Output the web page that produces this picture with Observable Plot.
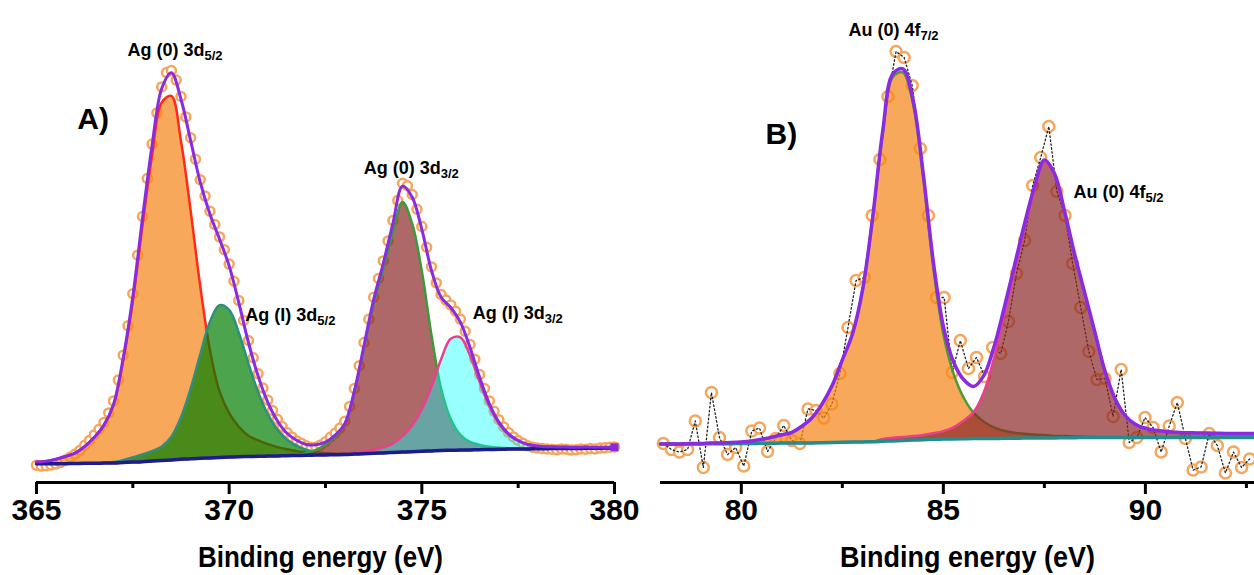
<!DOCTYPE html>
<html><head><meta charset="utf-8">
<script src="https://cdn.jsdelivr.net/npm/d3@7"></script>
<script src="https://cdn.jsdelivr.net/npm/@observablehq/plot@0.6"></script>
<style>
html,body{margin:0;padding:0;background:#fff;overflow:hidden}
#wrap{display:flex;width:1254px;height:575px}
#wrap svg{display:block;flex:none}
g[aria-label="x-axis tick label"]{font-weight:bold}
</style></head><body><div id="wrap"></div>
<script>
// ---------- Panel A : Ag 3d ----------
const energyA = [365,365.25,365.5,365.75,366,366.25,366.5,366.75,367,367.25,367.5,367.75,368,368.25,368.5,368.75,369,369.25,369.5,369.75,370,370.25,370.5,370.75,371,371.25,371.5,371.75,372,372.25,372.5,372.75,373,373.25,373.5,373.75,374,374.25,374.5,374.75,375,375.25,375.5,375.75,376,376.25,376.5,376.75,377,377.25,377.5,377.75,378,378.25,378.5,378.75,379,379.25,379.5,379.75,380];
const backgroundA = [4.7,4.7,4.7,4.7,4.75,4.8,4.8,4.85,4.9,5.0,5.1,5.2,5.35,5.5,5.65,5.8,5.95,6.05,6.15,6.25,6.35,6.45,6.5,6.55,6.6,6.65,6.7,6.75,6.8,6.85,6.9,6.95,7.0,7.1,7.2,7.3,7.4,7.5,7.6,7.7,7.8,7.9,8.0,8.05,8.1,8.15,8.2,8.25,8.3,8.35,8.4,8.4,8.45,8.45,8.5,8.5,8.5,8.55,8.55,8.6,8.6];
const ag0_3d52 = [0.4,0.6,1.1,1.8,2.6,4.2,6.5,9.5,14.5,25.5,40.2,59.0,76.5,89.5,91.0,79.5,62.0,43.0,27.0,16.5,11.0,7.5,5.2,4.0,3.0,2.2,1.6,1.1,0.7,0.5,0.3,0.2,0.1,0,0,0,0,0,0,0,0,0,0,0,0,0,0,0,0,0,0,0,0,0,0,0,0,0,0,0,0];
const agI_3d52 = [0,0,0,0,0,0,0,0,0.2,0.6,1.2,1.8,2.5,3.5,5.8,10.5,17.5,26.0,34.0,38.1,36.8,31.0,23.3,16.1,10.5,6.6,4.0,2.5,1.4,0.8,0.4,0.2,0.1,0,0,0,0,0,0,0,0,0,0,0,0,0,0,0,0,0,0,0,0,0,0,0,0,0,0,0,0];
const ag0_3d32 = [0,0,0,0,0,0,0,0,0,0,0,0,0,0,0,0,0,0,0,0,0,0,0,0,0,0,0,0.2,0.6,1.3,2.5,4.5,7.5,15.5,26.5,37.5,46.0,55.0,62.5,57.0,45.0,29.0,15.5,7.8,3.8,2.0,1.2,0.7,0.4,0.2,0.1,0,0,0,0,0,0,0,0,0,0];
const agI_3d32 = [0,0,0,0,0,0,0,0,0,0,0,0,0,0,0,0,0,0,0,0,0,0,0,0,0,0,0,0,0,0,0,0,0,0.3,0.6,0.9,1.4,2.3,4.0,6.6,10.5,16.1,22.8,27.9,28.2,23.6,16.9,10.8,6.4,3.6,2.0,1.1,0.7,0.5,0.4,0.35,0.3,0.3,0.25,0.2,0.2];
const envelopeA = [5.1,5.3,5.8,6.5,7.35,9.0,11.3,14.35,19.6,31.1,46.5,66.0,84.35,98.5,102.45,95.8,85.45,75.05,67.15,60.85,54.15,44.95,35.0,26.65,20.1,15.45,12.3,10.55,9.5,9.45,10.1,11.85,14.7,22.9,34.3,45.7,54.8,64.8,74.1,71.3,63.3,53.0,46.3,43.75,40.1,33.75,26.3,19.75,15.1,12.15,10.5,9.5,9.15,8.95,8.9,8.85,8.8,8.85,8.8,8.8,8.8];
const measuredEnergyA = [365,365.125,365.25,365.375,365.5,365.625,365.75,365.875,366,366.125,366.25,366.375,366.5,366.625,366.75,366.875,367,367.125,367.25,367.375,367.5,367.625,367.75,367.875,368,368.125,368.25,368.375,368.5,368.625,368.75,368.875,369,369.125,369.25,369.375,369.5,369.625,369.75,369.875,370,370.125,370.25,370.375,370.5,370.625,370.75,370.875,371,371.125,371.25,371.375,371.5,371.625,371.75,371.875,372,372.125,372.25,372.375,372.5,372.625,372.75,372.875,373,373.125,373.25,373.375,373.5,373.625,373.75,373.875,374,374.125,374.25,374.375,374.5,374.625,374.75,374.875,375,375.125,375.25,375.375,375.5,375.625,375.75,375.875,376,376.125,376.25,376.375,376.5,376.625,376.75,376.875,377,377.125,377.25,377.375,377.5,377.625,377.75,377.875,378,378.125,378.25,378.375,378.5,378.625,378.75,378.875,379,379.125,379.25,379.375,379.5,379.625,379.75,379.875,380];
const measuredA = [4.3,4.1,4.2,4.4,4.6,5.0,5.6,6.3,7.1,8.0,9.3,10.5,11.9,13.3,15.0,17.4,20.4,25.6,31.8,39.2,47.2,56.8,66.5,76.0,84.6,92.4,98.9,102.5,103.0,100.6,96.5,91.4,86.2,80.8,75.7,71.6,67.8,64.5,61.4,58.2,54.6,50.3,45.5,40.5,35.5,31.2,27.2,23.6,20.6,18.0,15.8,14.0,12.5,11.4,10.4,9.8,9.2,8.8,8.8,9.4,10.2,11.3,12.3,13.6,15.3,19.0,23.5,29.2,35.0,40.8,46.3,51.0,55.4,60.4,65.5,70.5,74.8,74.2,72.0,68.3,64.0,58.8,53.9,49.9,47.0,45.6,44.4,42.8,40.8,37.8,34.5,30.8,27.0,23.5,20.4,17.8,15.7,13.9,12.5,11.4,10.5,9.8,9.2,8.8,8.6,8.5,8.4,8.3,8.2,8.4,8.3,8.1,8.2,8.4,8.3,8.5,8.4,8.6,8.7,8.8,8.9];
const ticksA = [365,370,375,380];
const minorTicksA = [367.5,372.5,377.5];

// ---------- Panel B : Au 4f ----------
const energyB = [78,78.25,78.5,78.75,79,79.25,79.5,79.75,80,80.25,80.5,80.75,81,81.25,81.5,81.75,82,82.25,82.5,82.75,83,83.25,83.5,83.75,84,84.25,84.5,84.75,85,85.25,85.5,85.75,86,86.25,86.5,86.75,87,87.25,87.5,87.75,88,88.25,88.5,88.75,89,89.25,89.5,89.75,90,90.25,90.5,90.75,91,91.25,91.5,91.75,92,92.25,92.5,92.75];
const backgroundB = [9.6,9.6,9.6,9.65,9.65,9.7,9.7,9.7,9.75,9.75,9.8,9.8,9.85,9.85,9.9,9.9,9.95,10.0,10.05,10.1,10.15,10.2,10.3,10.4,10.5,10.6,10.7,10.8,10.85,10.9,10.95,11.0,11.0,11.0,11.05,11.05,11.1,11.1,11.15,11.15,11.2,11.2,11.25,11.25,11.25,11.25,11.25,11.25,11.25,11.25,11.25,11.25,11.25,11.25,11.25,11.25,11.25,11.25,11.25,11.25];
const au0_4f72 = [0,0,0.05,0.1,0.1,0.15,0.2,0.3,0.4,0.65,1.0,1.5,2.1,2.7,4.2,6.3,9.7,14.3,20.6,27.0,38.0,56.0,77.0,91.0,92.0,84.0,65.5,43.0,26.2,16.4,10.3,6.4,4.2,2.8,1.9,1.4,1.1,0.9,0.7,0.5,0.4,0.3,0.2,0.1,0,0,0,0,0,0,0,0,0,0,0,0,0,0,0,0];
const au0_4f52 = [0,0,0,0,0,0,0,0,0,0,0,0,0,0,0,0,0,0,0,0,0,0,0.6,0.8,0.9,1.0,1.2,1.5,2.0,2.9,4.5,6.6,11.5,20.0,30.5,41.4,52.1,61.8,68.8,65.6,56.2,45.5,35.9,26.2,16.6,9.7,5.5,3.3,2.3,1.8,1.5,1.3,1.2,1.15,1.1,1.05,1.0,1.0,1.0,1.0];
const envelopeB = [9.6,9.6,9.65,9.75,9.75,9.85,9.9,10.0,10.15,10.4,10.8,11.3,11.95,12.55,14.1,16.2,19.65,24.3,30.65,37.1,48.15,66.2,87.9,102.2,103.4,95.6,77.4,55.3,39.05,30.2,25.75,24.0,26.7,33.8,43.45,53.85,64.3,73.8,80.65,77.25,67.8,57.0,47.35,37.55,27.85,20.95,16.75,14.55,13.55,13.05,12.75,12.55,12.45,12.4,12.35,12.3,12.25,12.25,12.25,12.25];
const measuredEnergyB = [78.07,78.27,78.47,78.67,78.86,79.06,79.26,79.46,79.66,79.86,80.06,80.26,80.45,80.65,80.85,81.05,81.25,81.45,81.65,81.85,82.04,82.24,82.44,82.64,82.84,83.04,83.24,83.43,83.63,83.83,84.03,84.23,84.43,84.63,84.83,85.02,85.22,85.42,85.62,85.82,86.02,86.22,86.42,86.61,86.81,87.01,87.21,87.41,87.61,87.81,88.01,88.2,88.4,88.6,88.8,89.0,89.2,89.4,89.6,89.79,89.99,90.19,90.39,90.59,90.79,90.99,91.18,91.38,91.58,91.78,91.98,92.18,92.38,92.58];
const measuredB = [9.75,8.25,7.6,8.25,15.4,3.75,22.5,11.25,7.0,8.75,4.1,12.9,13.6,7.75,11.0,14.25,10.5,9.75,18.4,18.0,16.1,19.6,27.25,38.75,50.5,51.25,66.75,80.75,96.5,107.75,106.25,99.25,83.5,66.75,46.25,46.25,27.5,35.5,28.5,31.25,26.5,33.75,32.25,40.25,52.25,60.5,74.25,81.25,89.0,72.75,66.75,54.75,43.75,32.75,25.75,26.0,16.5,28.25,10.0,11.25,16.25,13.75,7.6,14.1,20.0,11.0,3.1,3.9,12.25,9.25,2.4,7.6,3.75,5.9];
const ticksB = [80,85,90];
const minorTicksB = [82.5,87.5,92.5];

const axisTitle = "Binding energy (eV)";
const labelsA = [
  {x: 367.36, y: 106.75, main: "Ag (0) 3d", sub: "5/2"},
  {x: 370.42, y: 40.5,   main: "Ag (I) 3d", sub: "5/2"},
  {x: 373.49, y: 77.25,  main: "Ag (0) 3d", sub: "3/2"},
  {x: 376.32, y: 41,     main: "Ag (I) 3d", sub: "3/2"}
];
const labelsB = [
  {x: 82.65, y: 111.75, main: "Au (0) 4f", sub: "7/2"},
  {x: 88.22, y: 71.25,  main: "Au (0) 4f", sub: "5/2"}
];

const font = "'Liberation Sans', Arial, Helvetica, sans-serif";
const curve = "catmull-rom";

const tableA = energyA.map((E, i) => ({
  E, base: backgroundA[i],
  o: backgroundA[i] + ag0_3d52[i], g: backgroundA[i] + agI_3d52[i],
  br: backgroundA[i] + ag0_3d32[i], c: backgroundA[i] + agI_3d32[i],
  env: envelopeA[i]
}));
const measA = measuredEnergyA.map((E, i) => ({E, v: measuredA[i]}));
const tableB = energyB.map((E, i) => ({
  E, base: backgroundB[i],
  o: backgroundB[i] + au0_4f72[i], br: backgroundB[i] + au0_4f52[i],
  env: envelopeB[i]
}));
const measB = measuredEnergyB.map((E, i) => ({E, v: measuredB[i]}));

function axisMarks(ticks, minor, titleDx) {
  return [
    Plot.ruleY([0], {stroke: "black", strokeWidth: 3}),
    Plot.axisX({ticks, tickSize: 12, tickPadding: 4, strokeWidth: 3, fontSize: 30, fontWeight: "bold", tickFormat: d => String(d), label: null}),
    Plot.axisX({ticks: minor, tickSize: 6, strokeWidth: 3, tickFormat: () => "", label: null}),
    Plot.text([axisTitle], {frameAnchor: "bottom", dy: 84, dx: titleDx, lineAnchor: "bottom", fontSize: 29, fontWeight: "bold"})
  ];
}

const svgA = Plot.plot({
  width: 640, height: 575, marginLeft: 36, marginRight: 26, marginTop: 0, marginBottom: 93,
  style: {fontFamily: font, background: "white", overflow: "visible"},
  x: {domain: [365, 380]},
  y: {domain: [0, 120.5], axis: null},
  marks: [
    Plot.dot(measA, {x: "E", y: "v", r: 4.5, stroke: "#f6a65c", strokeWidth: 2.5, fill: "white"}),
    Plot.areaY(tableA, {x: "E", y1: "base", y2: "o", fill: "#f5861a", fillOpacity: 0.72, curve}),
    Plot.line(tableA, {x: "E", y: "o", stroke: "#ff2a1a", strokeWidth: 2.5, curve}),
    Plot.areaY(tableA, {x: "E", y1: "base", y2: "g", fill: "rgb(0,125,0)", fillOpacity: 0.7, curve}),
    Plot.line(tableA, {x: "E", y: "g", stroke: "#2f8f7f", strokeWidth: 2.5, curve}),
    Plot.areaY(tableA, {x: "E", y1: "base", y2: "br", fill: "rgb(140,40,40)", fillOpacity: 0.7, curve}),
    Plot.line(tableA, {x: "E", y: "br", stroke: "#3c9a3c", strokeWidth: 2.5, curve}),
    Plot.areaY(tableA, {x: "E", y1: "base", y2: "c", fill: "cyan", fillOpacity: 0.4, curve}),
    Plot.line(tableA, {x: "E", y: "c", stroke: "#e8408a", strokeWidth: 2.5, curve}),
    Plot.line(tableA, {x: "E", y: "base", stroke: "#1c1c8c", strokeWidth: 3.5, curve}),
    Plot.line(tableA, {x: "E", y: "env", stroke: "#8a2be2", strokeWidth: 3, curve}),
    Plot.dot(tableA.slice(-1), {x: "E", y: "env", symbol: "square", r: 4.5, fill: "#8a2be2"}),
    Plot.text(labelsA, {x: "x", y: "y", text: "main", textAnchor: "start", lineAnchor: "bottom", fontSize: 18, fontWeight: "bold"}),
    Plot.text(["A)"], {x: 366.06, y: 88.5, textAnchor: "start", lineAnchor: "bottom", fontSize: 30, fontWeight: "bold"}),
    ...axisMarks(ticksA, minorTicksA, -5)
  ]
});

const svgB = Plot.plot({
  width: 614, height: 575, marginLeft: 20, marginRight: 0, marginTop: 0, marginBottom: 93,
  style: {fontFamily: font, background: "white", overflow: "visible"},
  x: {domain: [78, 92.7]},
  y: {domain: [0, 120.5], axis: null},
  marks: [
    Plot.dot(measB, {x: "E", y: "v", r: 5.5, stroke: "#f6a65c", strokeWidth: 2.5, fill: "white"}),
    Plot.line(measB, {x: "E", y: "v", stroke: "#222", strokeWidth: 1.3, strokeDasharray: "1.5 2.5"}),
    Plot.areaY(tableB, {x: "E", y1: "base", y2: "o", fill: "#f5861a", fillOpacity: 0.72, curve}),
    Plot.line(tableB, {x: "E", y: "o", stroke: "#4f9a2f", strokeWidth: 2.5, curve}),
    Plot.areaY(tableB, {x: "E", y1: "base", y2: "br", fill: "rgb(140,40,40)", fillOpacity: 0.7, curve}),
    Plot.line(tableB, {x: "E", y: "br", stroke: "#e8408a", strokeWidth: 2.5, curve}),
    Plot.line(tableB, {x: "E", y: "base", stroke: "#238c8c", strokeWidth: 3.5, curve}),
    Plot.line(tableB, {x: "E", y: "env", stroke: "#8a2be2", strokeWidth: 3.5, curve}),
    Plot.text(labelsB, {x: "x", y: "y", text: "main", textAnchor: "start", lineAnchor: "bottom", fontSize: 18, fontWeight: "bold"}),
    Plot.text(["B)"], {x: 80.6, y: 84.75, textAnchor: "start", lineAnchor: "bottom", fontSize: 30, fontWeight: "bold"}),
    ...axisMarks(ticksB, minorTicksB, 10)
  ]
});

function finish(svg, labels, titleLength) {
  let k = 0;
  d3.select(svg).selectAll("text").each(function() {
    const t = this.textContent;
    if (k < labels.length && t === labels[k].main) {
      d3.select(this).append("tspan").attr("dy", 4).attr("font-size", 13).text(labels[k].sub);
      k++;
    } else if (t === axisTitle) {
      d3.select(this).attr("textLength", titleLength).attr("lengthAdjust", "spacingAndGlyphs");
    }
  });
}
finish(svgA, labelsA, 245);
finish(svgB, labelsB, 255);
document.getElementById("wrap").append(svgA, svgB);
</script></body></html>
